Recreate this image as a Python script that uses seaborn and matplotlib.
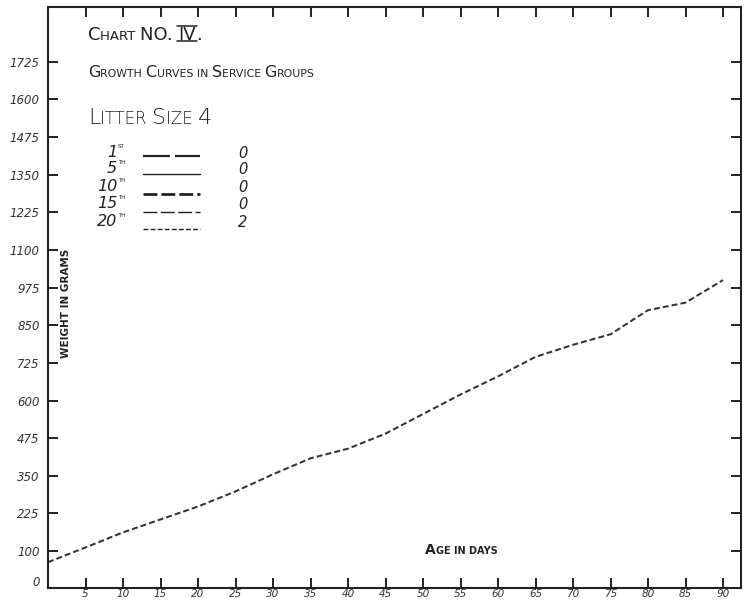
import matplotlib
matplotlib.use("Agg")
import matplotlib.pyplot as plt
import seaborn as sns
import pandas as pd
from matplotlib.lines import Line2D

# ---------------- data ----------------
age_days = [0, 5, 10, 15, 20, 25, 30, 35, 40, 45, 50, 55, 60, 65, 70, 75, 80, 85, 90]
weight_20th = [63, 112, 162, 205, 248, 298, 355, 408, 440, 490, 555, 620, 680, 745,
               785, 820, 900, 925, 1000]
x_ticks = [5, 10, 15, 20, 25, 30, 35, 40, 45, 50, 55, 60, 65, 70, 75, 80, 85, 90]
y_ticks = [0, 100, 225, 350, 475, 600, 725, 850, 975, 1100, 1225, 1350, 1475, 1600, 1725]
groups = ["1", "5", "10", "15", "20"]
group_suffix = ["ST", "TH", "TH", "TH", "TH"]
group_counts = ["0", "0", "0", "0", "2"]

# ---------------- style ----------------
sns.set_theme(style="ticks")
plt.rcParams["font.family"] = ["DejaVu Sans"]
plt.rcParams["lines.scale_dashes"] = False

W, H = 746, 602
INK = "#222222"
fig = plt.figure(figsize=(W / 100, H / 100), dpi=100)
fig.patch.set_facecolor("white")
ax = fig.add_axes([48 / W, 1 - 588 / H, (741 - 48) / W, (588 - 7) / H])
ax.set_facecolor("white")

df = pd.DataFrame({"Age": age_days, "Weight": weight_20th})
sns.lineplot(data=df, x="Age", y="Weight", ax=ax, color="#333333",
             linewidth=1.45, linestyle=(0, (4.3, 2.2)))

ax.set_xlim(0, 92.4)
ax.set_ylim(-22.7, 1907)
ax.set_xticks(x_ticks)
ax.set_xticklabels([str(v) for v in x_ticks])
ax.set_yticks(y_ticks)
ax.set_yticklabels([str(v) for v in y_ticks])
ax.tick_params(direction="in", length=7, width=1.4, colors=INK,
               top=True, right=True, labeltop=False, labelright=False)
ax.tick_params(axis="y", pad=6)
ax.tick_params(axis="x", pad=0.5)
for lab in ax.get_yticklabels():
    lab.set_fontstyle("italic")
    lab.set_fontsize(8.5)
    lab.set_color("#333333")
for lab in ax.get_xticklabels():
    lab.set_fontstyle("italic")
    lab.set_fontsize(7.5)
    lab.set_color("#333333")
ax.yaxis.get_major_ticks()[0].tick1line.set_visible(False)
ax.yaxis.get_major_ticks()[0].tick2line.set_visible(False)
for sp in ax.spines.values():
    sp.set_linewidth(1.5)
    sp.set_color(INK)

ax.set_xlabel("")
ax.set_ylabel("WEIGHT IN GRAMS", fontsize=7.5, fontweight="bold", color=INK)
ax.yaxis.set_label_coords((71 - 48) / (741 - 48), (588 - 303) / (588 - 7))

renderer = fig.canvas.get_renderer()


def caps_text(x, y, parts, **kw):
    """Draw small-caps style lettering from (x, y) pixel baseline."""
    boxes = []
    for s, size in parts:
        t = fig.text(x / W, 1 - y / H, s, fontsize=size, va="baseline", ha="left",
                     color=INK, **kw)
        bb = t.get_window_extent(renderer)
        boxes.append(bb)
        x = bb.x1
    return boxes


# Title block
B1, S1 = 13, 9.5
bx = caps_text(88, 40, [("C", B1), ("HART ", S1), ("NO. ", B1), ("IV", B1), (".", B1)])
iv = bx[3]
cap = 0.73 * B1 * 100 / 72
for yy in (40 + 0.5, 40 - cap - 0.5):
    fig.add_artist(Line2D([(iv.x0 - 1) / W, (iv.x1 + 1) / W], [1 - yy / H, 1 - yy / H],
                          color=INK, lw=1.1, transform=fig.transFigure))

B2, S2 = 11.5, 7.8
caps_text(88, 77, [("G", B2), ("ROWTH ", S2), ("C", B2), ("URVES IN ", S2), ("S", B2),
                   ("ERVICE ", S2), ("G", B2), ("ROUPS", S2)])

B3, S3 = 16, 12
caps_text(88, 124, [("L", B3), ("ITTER ", S3), ("S", B3), ("IZE ", S3), ("4", B3)],
          fontweight="light")

caps_text(425, 554, [("A", 10), ("GE IN DAYS", 7)], fontweight="bold")

# Legend block
row_base = [157, 173, 191, 208, 226]
row_line = [156, 174, 194, 212, 229]
line_styles = [
    dict(lw=1.6, ls=(0, (19.4, 3.6))),
    dict(lw=1.0, ls="-"),
    dict(lw=2.0, ls=(0, (10, 2.9))),
    dict(lw=1.0, ls=(0, (10, 2.5))),
    dict(lw=1.0, ls=(0, (3.5, 1.6))),
]
for g, suf, cnt, yb, yl, st in zip(groups, group_suffix, group_counts, row_base,
                                   row_line, line_styles):
    fig.text(117 / W, 1 - yb / H, g, fontsize=11.5, fontstyle="italic", ha="right",
             va="baseline", color=INK)
    fig.text(118 / W, 1 - (yb - 9) / H, suf, fontsize=4, ha="left", va="baseline",
             color=INK)
    fig.add_artist(Line2D([143 / W, 200 / W], [1 - yl / H, 1 - yl / H], color=INK,
                          transform=fig.transFigure, **st))
    fig.text(243 / W, 1 - (yb + 1) / H, cnt, fontsize=10.5, fontstyle="italic",
             ha="center", va="baseline", color=INK)

fig.savefig("out.png", dpi=100, facecolor="white")
